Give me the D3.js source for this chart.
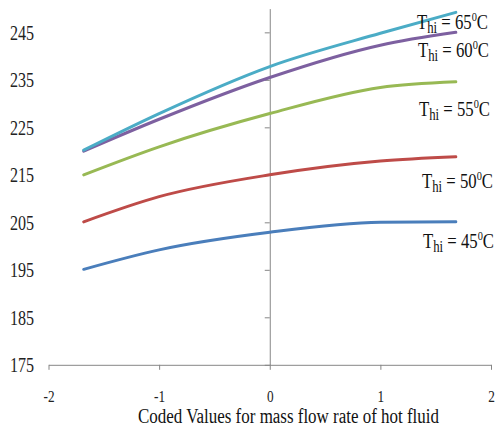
<!DOCTYPE HTML>
<html>
<head>
	<title>Outlet temperature vs coded mass flow rate</title>
	<meta charset="UTF8">
	<script src="https://d3js.org/d3.v7.min.js"></script>
	<style>
		body
		{
			margin: 0;
			background-color: white;
		}
		svg
		{
			display: block;
		}
	</style>
</head>
<body>
	<svg></svg>
<script>
	// coded levels of the hot fluid mass flow rate
	const codedX = [-1.682, -1, 0, 1, 1.682];
	// hot inlet temperatures (one curve each)
	const temps = [45, 50, 55, 60, 65];
	const vals45 = [195.1, 199.2, 202.9, 205.0, 205.1];
	const vals50 = [205.1, 210.4, 215.0, 217.9, 218.8];
	const vals55 = [215.0, 220.9, 227.9, 233.4, 234.6];
	const vals60 = [220.0, 226.7, 235.5, 242.3, 245.0];
	const vals65 = [220.2, 227.9, 237.8, 244.8, 249.2];
	const yTicks = [175, 185, 195, 205, 215, 225, 235, 245];
	const xTicks = [-2, -1, 0, 1, 2];
	const xTitle = "Coded Values for mass flow rate of hot fluid";

	const series = [vals45, vals50, vals55, vals60, vals65];
	const colors = ["#4a7ebb", "#be4b48", "#98b954", "#7d60a0", "#4bacc6"];
	// label anchor (left x, baseline y) per curve
	const labelPos = [[423, 248], [422, 188], [419, 116], [418, 57], [417, 29]];

	const w = 495;
	const h = 432;
	const axisColor = "#868686";
	const serif = "'Liberation Serif', 'Times New Roman', serif";

	const xScale = d3.scaleLinear().domain([-2, 2]).range([48.5, 491]);
	const yScale = d3.scaleLinear().domain([175, 250]).range([364.8, 8.6]);

	const svg = d3.select("svg").attr("width", w).attr("height", h);

	// y ticks sit on the vertical axis through x = 0
	const yAxis = svg.append("g")
		.attr("transform", "translate(" + xScale(0) + ",0)")
		.call(d3.axisLeft(yScale).tickValues(yTicks).tickSize(5).tickSizeOuter(0).tickFormat(""));
	yAxis.select(".domain").attr("stroke", axisColor);
	yAxis.selectAll("line").attr("stroke", axisColor);

	// y labels are drawn low, at the left edge
	const yLabels = svg.append("g")
		.attr("transform", "translate(34,0) scale(0.73,1)")
		.call(d3.axisLeft(yScale).tickValues(yTicks).tickSize(0).tickPadding(0));
	yLabels.select(".domain").remove();
	yLabels.selectAll("text")
		.style("font-family", serif)
		.style("font-size", "22px")
		.attr("fill", "#222");

	const xAxis = svg.append("g")
		.attr("transform", "translate(0," + yScale(175) + ")")
		.call(d3.axisBottom(xScale).tickValues(xTicks).tickSize(5).tickSizeOuter(0).tickPadding(20).tickFormat(d => String(d)));
	xAxis.select(".domain").attr("stroke", axisColor);
	xAxis.selectAll("line").attr("stroke", axisColor);
	xAxis.selectAll("text")
		.style("font-family", serif)
		.style("font-size", "17px")
		.attr("fill", "#222")
		.attr("transform", "scale(0.78,1)");

	svg.append("text")
		.attr("x", 288.5)
		.attr("y", 423)
		.attr("text-anchor", "middle")
		.style("font-family", serif)
		.style("font-size", "20px")
		.attr("fill", "#111")
		.attr("textLength", 301)
		.attr("lengthAdjust", "spacingAndGlyphs")
		.text(xTitle);

	const line = d3.line()
		.x((d, i) => xScale(codedX[i]))
		.y(d => yScale(d))
		.curve(d3.curveMonotoneX);

	svg.selectAll("path.curve")
		.data(series)
		.enter()
		.append("path")
		.attr("class", "curve")
		.attr("d", d => line(d))
		.attr("fill", "none")
		.attr("stroke", (d, i) => colors[i])
		.attr("stroke-width", 3)
		.attr("stroke-linecap", "round");

	temps.forEach((t, i) => {
		const lbl = svg.append("text")
			.style("font-family", serif)
			.style("font-size", "21px")
			.attr("fill", "#111");
		lbl.append("tspan").text("T");
		lbl.append("tspan").style("font-size", "16px").attr("dy", 4).text("hi");
		lbl.append("tspan").attr("dy", -4).text(" = " + t);
		lbl.append("tspan").style("font-size", "13px").attr("dy", -8).text("0");
		lbl.append("tspan").attr("dy", 8).text("C");
		const bw = lbl.node().getBBox().width;
		lbl.attr("transform", "translate(" + labelPos[i][0] + "," + labelPos[i][1] + ") scale(" + (71 / bw) + ",1)");
	});
</script>
</body>
</html>
